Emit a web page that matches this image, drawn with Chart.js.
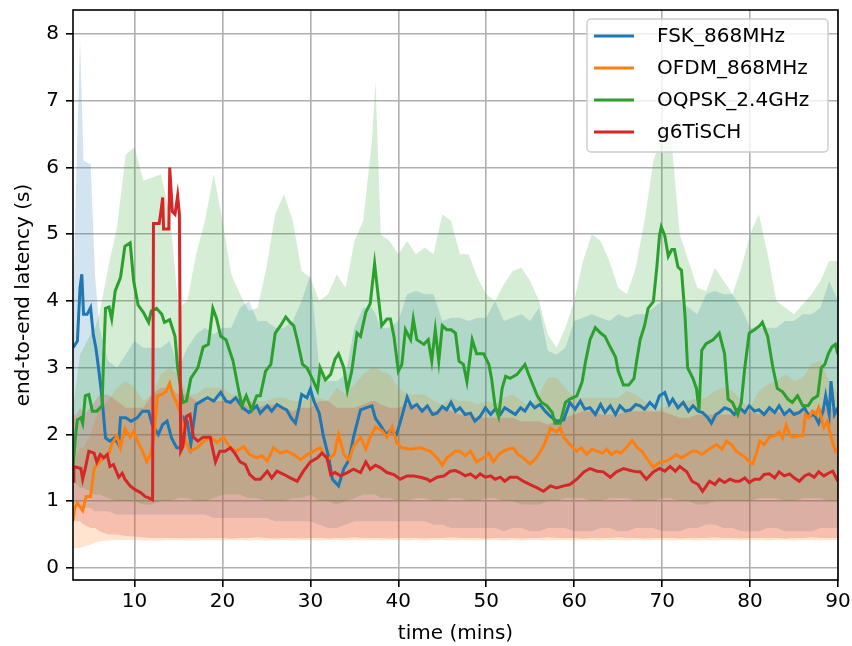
<!DOCTYPE html>
<html>
<head>
<meta charset="utf-8">
<script src="https://cdn.jsdelivr.net/npm/chart.js@4.4.1/dist/chart.umd.min.js"></script>
<style>
  html, body { margin: 0; padding: 0; background: #fff; }
  #wrap { width: 852px; height: 646px; }
</style>
</head>
<body>
<div id="wrap"><canvas id="latencyChart" width="852" height="646"></canvas></div>
<script>
// Axis ticks
const xTicks = [10, 20, 30, 40, 50, 60, 70, 80, 90];
const yTicks = [0, 1, 2, 3, 4, 5, 6, 7, 8];

// FSK_868MHz (mean latency)
const fskMins = [3.0, 3.5, 3.8, 4.0, 4.2, 4.6, 5.0, 5.3, 5.6, 5.9,
  6.3, 6.7, 7.2, 7.7, 8.2, 8.4, 9.0, 9.6, 10.3, 10.9,
  11.6, 12.0, 12.7, 13.2, 13.7, 14.2, 14.8, 15.3, 15.6, 16.0,
  16.4, 17.0, 17.6, 18.3, 19.0, 19.8, 20.4, 20.9, 21.5, 22.3,
  23.0, 23.9, 24.3, 25.1, 25.6, 26.2, 26.8, 27.3, 27.8, 28.3,
  28.7, 29.0, 29.6, 30.0, 30.4, 31.0, 31.5, 32.1, 32.5, 33.2,
  33.8, 34.4, 34.9, 35.7, 36.3, 37.0, 37.4, 38.1, 38.6, 39.1,
  39.8, 40.4, 41.0, 41.5, 42.1, 42.7, 43.3, 43.9, 44.4, 45.0,
  45.5, 46.0, 46.5, 47.0, 47.6, 48.2, 48.7, 49.3, 49.9, 50.5,
  51.0, 51.6, 52.1, 52.7, 53.3, 53.9, 54.4, 55.0, 55.5, 56.1,
  56.7, 57.3, 58.0, 58.8, 59.5, 60.1, 60.7, 61.2, 61.8, 62.4,
  63.0, 63.5, 64.1, 64.7, 65.2, 65.8, 66.4, 67.0, 67.5, 68.0,
  68.6, 69.2, 69.7, 70.3, 70.8, 71.2, 71.8, 72.4, 73.0, 73.5,
  74.1, 74.6, 75.2, 75.6, 76.1, 76.5, 77.1, 77.7, 78.2, 78.8,
  79.4, 79.9, 80.5, 81.0, 81.6, 82.2, 82.8, 83.3, 83.9, 84.5,
  85.0, 85.6, 86.2, 86.7, 87.3, 87.8, 88.3, 88.6, 89.0, 89.2,
  89.6, 90.0];
const fskLatency = [3.3, 3.4, 4.2, 4.4, 3.8, 3.8, 3.9, 3.5, 3.3, 3.0,
  2.55, 1.95, 1.9, 1.95, 1.85, 2.25, 2.25, 2.2, 2.25, 2.35,
  2.35, 2.15, 2.0, 2.15, 2.2, 1.95, 1.8, 1.8, 2.25, 2.2,
  1.85, 2.45, 2.5, 2.55, 2.5, 2.63, 2.5, 2.48, 2.55, 2.4,
  2.33, 2.43, 2.32, 2.43, 2.35, 2.45, 2.4, 2.37, 2.25, 2.17,
  2.4, 2.6, 2.55, 2.68, 2.5, 2.32, 1.96, 1.65, 1.33, 1.23,
  1.49, 1.62, 1.96, 2.37, 2.4, 2.43, 2.24, 2.11, 2.0, 2.06,
  2.0, 2.27, 2.56, 2.4, 2.45, 2.35, 2.43, 2.3, 2.32, 2.42,
  2.37, 2.48, 2.35, 2.4, 2.3, 2.32, 2.2, 2.27, 2.4, 2.3,
  2.38, 2.3, 2.4, 2.35, 2.3, 2.4, 2.35, 2.48, 2.4, 2.45,
  2.35, 2.27, 2.2, 2.22, 2.48, 2.38, 2.5, 2.38, 2.4, 2.3,
  2.45, 2.33, 2.43, 2.3, 2.43, 2.35, 2.37, 2.45, 2.43, 2.38,
  2.48, 2.4, 2.58, 2.63, 2.45, 2.53, 2.4, 2.48, 2.35, 2.43,
  2.35, 2.33, 2.25, 2.17, 2.3, 2.33, 2.4, 2.37, 2.3, 2.4,
  2.33, 2.43, 2.35, 2.37, 2.3, 2.4, 2.33, 2.43, 2.3, 2.37,
  2.3, 2.33, 2.4, 2.27, 2.3, 2.17, 2.35, 2.58, 2.3, 2.8,
  2.3, 2.4];

// OFDM_868MHz
const ofdmMins = [3.0, 3.2, 3.5, 4.1, 4.5, 5.0, 5.4, 6.0, 6.5, 7.1,
  7.4, 8.0, 8.4, 8.9, 9.5, 9.9, 10.3, 10.9, 11.4, 11.8,
  12.2, 12.6, 13.1, 13.6, 14.0, 14.4, 14.8, 15.2, 15.8, 16.3,
  17.1, 17.9, 18.6, 19.4, 20.1, 20.9, 21.6, 22.4, 23.1, 23.9,
  24.5, 25.1, 25.8, 26.6, 27.3, 28.1, 28.9, 29.6, 30.4, 31.1,
  31.9, 32.7, 33.2, 33.8, 34.4, 34.9, 35.7, 36.3, 36.8, 37.4,
  38.1, 38.7, 39.3, 39.8, 40.4, 41.4, 42.5, 43.6, 44.4, 45.0,
  45.5, 46.5, 47.0, 47.6, 48.2, 48.9, 49.7, 50.3, 50.8, 51.4,
  52.0, 52.5, 53.1, 53.6, 54.2, 55.0, 55.7, 56.5, 57.3, 58.0,
  58.4, 58.8, 59.5, 60.3, 60.8, 61.4, 62.0, 62.6, 63.2, 63.7,
  64.2, 64.8, 65.3, 65.9, 66.6, 67.2, 67.7, 68.2, 69.0, 69.7,
  70.5, 71.1, 71.6, 72.2, 72.8, 73.4, 73.9, 74.5, 75.0, 75.6,
  76.2, 76.8, 77.3, 77.9, 78.4, 79.0, 79.5, 80.0, 80.3, 80.8,
  81.1, 81.6, 82.2, 82.8, 83.3, 83.7, 84.1, 84.5, 84.8, 85.4,
  86.0, 86.3, 86.7, 87.1, 87.5, 87.8, 88.4, 88.8, 89.2, 89.7,
  90.0];
const ofdmLatency = [0.7, 0.9, 0.97, 0.86, 1.07, 1.07, 1.49, 1.59, 1.65, 1.72,
  1.85, 1.98, 1.8, 2.09, 1.96, 2.05, 1.91, 1.75, 1.59, 1.7,
  1.96, 2.58, 2.6, 2.65, 2.77, 2.58, 2.48, 2.32, 1.9, 1.75,
  1.8, 1.9, 1.96, 1.88, 1.96, 1.8, 1.75, 1.82, 1.7, 1.65,
  1.68, 1.6, 1.8, 1.72, 1.75, 1.7, 1.62, 1.7, 1.75, 1.8,
  1.62, 1.7, 2.0, 1.7, 1.62, 1.82, 1.96, 1.78, 1.96, 2.11,
  2.06, 1.96, 2.11, 1.88, 1.8, 1.78, 1.8, 1.75, 1.65, 1.54,
  1.65, 1.75, 1.75, 1.68, 1.75, 1.59, 1.65, 1.72, 1.59, 1.7,
  1.75, 1.78, 1.8, 1.7, 1.65, 1.56, 1.65, 1.82, 2.09, 2.04,
  2.1, 1.96, 1.85, 1.75, 1.8, 1.7, 1.78, 1.75, 1.72, 1.78,
  1.7, 1.75, 1.72, 1.8, 1.91, 1.8, 1.75, 1.65, 1.51, 1.58,
  1.6, 1.65, 1.7, 1.65, 1.7, 1.75, 1.75, 1.7, 1.75, 1.8,
  1.85, 1.78, 1.9, 1.85, 1.75, 1.7, 1.65, 1.58, 1.56, 1.75,
  1.9, 1.85, 1.96, 1.98, 2.04, 1.95, 2.14, 2.0, 1.96, 1.98,
  1.98, 2.3, 2.25, 2.35, 2.3, 2.4, 2.11, 2.2, 1.96, 1.75,
  1.8];

// OQPSK_2.4GHz
const oqpskMins = [3.0, 3.3, 3.5, 3.9, 4.1, 4.4, 4.8, 5.2, 5.7, 6.3,
  6.5, 6.7, 7.1, 7.4, 7.8, 8.4, 8.9, 9.5, 9.9, 10.4,
  11.0, 11.6, 11.9, 12.5, 13.1, 13.4, 14.0, 14.6, 14.9, 15.5,
  15.9, 16.4, 17.2, 17.8, 18.4, 18.9, 19.3, 19.8, 20.4, 21.2,
  21.8, 22.2, 22.7, 23.3, 23.9, 24.3, 24.9, 25.5, 26.0, 26.6,
  27.2, 27.7, 28.1, 28.5, 29.1, 29.6, 30.2, 30.8, 31.1, 31.7,
  32.3, 32.8, 33.2, 33.8, 34.2, 34.7, 35.3, 35.7, 36.3, 36.8,
  37.3, 37.6, 38.1, 38.7, 39.1, 39.5, 40.0, 40.4, 40.8, 41.4,
  41.7, 42.1, 42.9, 43.4, 43.8, 44.2, 44.6, 45.0, 45.5, 46.0,
  46.5, 46.9, 47.4, 47.8, 48.4, 48.9, 49.7, 50.3, 50.6, 51.0,
  51.4, 51.8, 52.2, 52.7, 53.5, 54.4, 55.0, 55.8, 56.3, 56.9,
  57.5, 57.8, 58.4, 59.0, 59.5, 60.3, 60.9, 61.3, 61.8, 62.4,
  63.0, 63.5, 64.1, 64.7, 65.0, 65.6, 66.2, 66.8, 67.1, 67.5,
  68.0, 68.4, 69.0, 69.4, 69.7, 69.9, 70.3, 70.7, 71.1, 71.4,
  71.8, 72.2, 72.6, 72.9, 73.5, 73.9, 74.2, 74.5, 75.0, 75.8,
  76.5, 77.1, 77.5, 78.0, 78.6, 79.0, 79.4, 79.9, 80.5, 81.1,
  81.4, 82.0, 82.6, 83.1, 83.7, 84.3, 84.8, 85.4, 86.0, 86.6,
  87.1, 87.7, 88.1, 88.5, 88.9, 89.3, 89.7, 90.0];
const oqpskLatency = [1.5, 2.0, 2.22, 2.25, 2.17, 2.58, 2.6, 2.35, 2.35, 2.43,
  3.2, 3.89, 3.91, 3.73, 4.15, 4.35, 4.82, 4.87, 4.3, 3.94,
  3.83, 3.68, 3.85, 3.89, 3.8, 3.68, 3.72, 3.47, 3.0, 2.48,
  2.5, 2.84, 3.0, 3.31, 3.35, 3.89, 3.75, 3.47, 3.42, 3.1,
  2.69, 2.43, 2.58, 2.37, 2.58, 2.58, 2.95, 3.05, 3.52, 3.63,
  3.76, 3.68, 3.63, 3.42, 3.05, 3.0, 2.84, 2.66, 3.0, 2.82,
  2.9, 3.13, 3.21, 3.0, 2.66, 2.95, 3.52, 3.47, 3.83, 3.96,
  4.56, 4.2, 3.63, 3.73, 3.73, 3.47, 2.95, 3.05, 3.57, 3.42,
  3.73, 3.42, 3.35, 3.42, 3.1, 3.57, 3.1, 3.63, 3.57, 3.57,
  3.52, 3.1, 3.05, 2.79, 3.42, 3.21, 3.21, 3.05, 2.84, 2.43,
  2.27, 2.69, 2.87, 2.84, 2.9, 3.05, 2.84, 2.58, 2.48, 2.43,
  2.33, 2.17, 2.17, 2.48, 2.53, 2.58, 2.79, 3.1, 3.42, 3.6,
  3.52, 3.47, 3.31, 3.16, 2.95, 2.74, 2.74, 2.84, 3.1, 3.42,
  3.63, 3.89, 3.99, 4.51, 4.98, 5.11, 4.98, 4.67, 4.77, 4.77,
  4.51, 4.46, 3.78, 3.0, 2.84, 2.69, 2.37, 3.26, 3.36, 3.42,
  3.52, 3.21, 2.53, 2.48, 2.3, 2.48, 3.0, 3.52, 3.57, 3.63,
  3.68, 3.47, 3.0, 2.69, 2.64, 2.53, 2.48, 2.58, 2.43, 2.43,
  2.53, 2.58, 3.0, 3.05, 3.21, 3.31, 3.35, 3.2];

// g6TiSCH
const tischMins = [3.0, 3.1, 3.9, 4.1, 4.4, 4.8, 5.4, 5.7, 6.1, 6.5,
  6.9, 7.2, 7.6, 8.2, 8.6, 8.9, 9.5, 10.1, 10.7, 11.2,
  11.6, 12.05, 12.15, 12.8, 13.0, 13.2, 13.3, 13.9, 14.0, 14.3,
  14.6, 14.9, 15.1, 15.25, 15.5, 15.9, 16.3, 16.7, 17.2, 17.8,
  18.6, 19.2, 19.7, 20.3, 20.9, 21.4, 22.0, 22.6, 23.1, 23.7,
  24.3, 25.1, 25.6, 26.2, 27.0, 27.7, 28.5, 29.2, 30.0, 30.8,
  31.3, 31.9, 32.3, 32.8, 33.4, 34.2, 34.9, 35.7, 36.3, 36.8,
  37.4, 38.0, 38.7, 39.5, 40.2, 41.0, 41.7, 42.5, 43.3, 43.6,
  44.4, 45.2, 45.9, 46.5, 47.0, 47.6, 48.2, 48.8, 49.3, 49.9,
  50.5, 51.0, 51.6, 52.1, 52.7, 53.5, 54.2, 55.0, 55.8, 56.5,
  57.3, 58.0, 58.8, 59.5, 60.3, 61.1, 61.8, 62.6, 63.3, 64.1,
  64.8, 65.6, 66.4, 67.1, 67.5, 68.2, 69.0, 69.7, 70.3, 70.9,
  71.5, 72.0, 72.8, 73.4, 74.1, 74.6, 75.4, 76.0, 76.5, 77.1,
  77.7, 78.3, 78.8, 79.4, 79.9, 80.5, 81.1, 81.6, 82.2, 82.8,
  83.3, 83.9, 84.5, 85.0, 85.6, 86.2, 86.7, 87.3, 87.8, 88.4,
  88.9, 89.4, 90.0];
const tischLatency = [1.3, 1.52, 1.49, 1.33, 1.49, 1.75, 1.72, 1.59, 1.7, 1.65,
  1.7, 1.52, 1.55, 1.36, 1.42, 1.33, 1.23, 1.17, 1.13, 1.07,
  1.05, 1.02, 5.16, 5.16, 5.34, 5.55, 5.08, 5.08, 6.0, 5.34,
  5.3, 5.58, 5.3, 1.75, 1.82, 2.27, 2.3, 1.96, 1.9, 1.96,
  1.96, 1.59, 1.75, 1.75, 1.8, 1.72, 1.59, 1.55, 1.4, 1.33,
  1.33, 1.45, 1.35, 1.45, 1.4, 1.35, 1.3, 1.45, 1.59, 1.65,
  1.72, 1.65, 1.4, 1.43, 1.38, 1.43, 1.48, 1.43, 1.59, 1.48,
  1.54, 1.5, 1.43, 1.4, 1.33, 1.38, 1.38, 1.36, 1.33, 1.3,
  1.36, 1.38, 1.45, 1.46, 1.43, 1.38, 1.41, 1.35, 1.41, 1.36,
  1.38, 1.33, 1.36, 1.3, 1.36, 1.36, 1.3, 1.25, 1.2, 1.15,
  1.23, 1.2, 1.23, 1.25, 1.33, 1.44, 1.49, 1.45, 1.44, 1.36,
  1.44, 1.49, 1.46, 1.44, 1.44, 1.33, 1.44, 1.49, 1.45, 1.52,
  1.45, 1.52, 1.44, 1.3, 1.25, 1.15, 1.3, 1.25, 1.33, 1.28,
  1.33, 1.3, 1.3, 1.35, 1.28, 1.33, 1.33, 1.4, 1.41, 1.35,
  1.44, 1.38, 1.41, 1.35, 1.3, 1.38, 1.41, 1.36, 1.44, 1.38,
  1.42, 1.45, 1.3];

// Spread bands (upper / lower), all on the same time grid
const bandMins = [3, 3.4, 3.8, 4.2, 5, 5.5, 6, 7, 8, 9,
  10, 11, 12, 13, 14, 15, 16, 17, 18, 19,
  20, 21, 22, 23, 24, 25, 26, 27, 28, 29,
  30, 31, 32, 33, 34, 35, 36, 37, 37.4, 38,
  39, 40, 41, 42, 43, 44, 45, 46, 47, 48,
  49, 50, 51, 52, 53, 54, 55, 56, 57, 58,
  59, 60, 61, 62, 63, 64, 65, 66, 67, 68,
  69, 70, 71, 72, 73, 74, 75, 76, 77, 78,
  79, 80, 81, 82, 83, 84, 85, 86, 87, 88,
  89, 90];
const fskUpper = [3.8, 6.0, 7.9, 6.1, 6.05, 4.4, 3.6, 3.1, 3.0, 3.2,
  3.4, 3.3, 3.3, 3.3, 3.4, 3.0, 3.3, 3.5, 3.6, 3.5,
  3.6, 3.6, 3.9, 4.0, 3.7, 3.7, 3.6, 3.6, 3.7, 4.0,
  4.4, 3.0, 2.8, 2.8, 2.9, 3.6, 3.9, 3.9, 3.8, 3.6,
  3.6, 3.7, 4.1, 4.15, 4.1, 4.1, 3.7, 3.75, 3.75, 3.7,
  3.75, 3.75, 4.0, 3.7, 3.75, 3.8, 3.7, 3.9, 3.25, 3.2,
  3.3, 3.7, 3.75, 3.8, 3.75, 3.7, 3.8, 3.75, 3.8, 3.8,
  3.9, 4.0, 4.0, 4.0, 3.9, 3.8, 4.1, 4.15, 4.1, 4.1,
  3.9, 3.6, 3.6, 3.6, 3.6, 3.7, 3.7, 3.8, 3.8, 3.9,
  4.3, 4.0];
const fskLower = [0.95, 0.95, 0.9, 0.9, 0.9, 0.85, 0.85, 0.85, 0.8, 0.8,
  0.8, 0.8, 0.8, 0.8, 0.8, 0.8, 0.8, 0.8, 0.8, 0.75,
  0.75, 0.75, 0.75, 0.75, 0.75, 0.75, 0.7, 0.7, 0.7, 0.7,
  0.7, 0.65, 0.6, 0.6, 0.65, 0.7, 0.7, 0.7, 0.7, 0.7,
  0.7, 0.7, 0.7, 0.7, 0.7, 0.65, 0.65, 0.6, 0.6, 0.6,
  0.6, 0.6, 0.6, 0.55, 0.6, 0.6, 0.55, 0.55, 0.6, 0.6,
  0.6, 0.55, 0.55, 0.55, 0.6, 0.6, 0.55, 0.55, 0.6, 0.6,
  0.6, 0.55, 0.55, 0.55, 0.6, 0.6, 0.65, 0.65, 0.6, 0.6,
  0.55, 0.55, 0.55, 0.6, 0.6, 0.55, 0.55, 0.55, 0.55, 0.6,
  0.6, 0.6];
const ofdmUpper = [1.4, 1.7, 1.8, 1.8, 2.0, 2.2, 2.4, 2.5, 2.7, 2.8,
  2.7, 2.5, 2.6, 2.9, 3.0, 2.9, 2.6, 2.6, 2.7, 2.7,
  2.7, 2.6, 2.6, 2.5, 2.5, 2.5, 2.55, 2.55, 2.5, 2.5,
  2.55, 2.55, 2.5, 2.7, 2.6, 2.75, 2.9, 3.0, 3.0, 2.95,
  2.9, 2.7, 2.6, 2.6, 2.6, 2.5, 2.45, 2.55, 2.5, 2.5,
  2.45, 2.5, 2.45, 2.55, 2.6, 2.5, 2.4, 2.6, 2.85, 2.85,
  2.7, 2.55, 2.55, 2.55, 2.55, 2.55, 2.55, 2.65, 2.6, 2.5,
  2.35, 2.4, 2.45, 2.5, 2.5, 2.55, 2.55, 2.65, 2.7, 2.65,
  2.5, 2.4, 2.65, 2.75, 2.8, 2.9, 2.8, 2.85, 3.05, 3.1,
  2.8, 2.6];
const ofdmLower = [0.28, 0.3, 0.3, 0.32, 0.35, 0.38, 0.4, 0.41, 0.42, 0.42,
  0.42, 0.41, 0.41, 0.41, 0.42, 0.42, 0.41, 0.41, 0.42, 0.42,
  0.41, 0.42, 0.42, 0.41, 0.42, 0.41, 0.42, 0.42, 0.41, 0.42,
  0.42, 0.41, 0.42, 0.42, 0.41, 0.42, 0.41, 0.42, 0.42, 0.41,
  0.42, 0.42, 0.41, 0.42, 0.41, 0.42, 0.42, 0.41, 0.42, 0.42,
  0.41, 0.42, 0.42, 0.41, 0.42, 0.41, 0.42, 0.42, 0.41, 0.42,
  0.42, 0.41, 0.42, 0.42, 0.41, 0.42, 0.42, 0.41, 0.42, 0.41,
  0.42, 0.42, 0.41, 0.42, 0.42, 0.41, 0.42, 0.41, 0.42, 0.42,
  0.41, 0.42, 0.42, 0.41, 0.42, 0.42, 0.41, 0.42, 0.42, 0.41,
  0.42, 0.42];
const oqpskUpper = [2.4, 2.8, 3.2, 3.3, 3.5, 3.6, 3.8, 4.5, 5.1, 6.2,
  6.3, 5.8, 5.85, 5.9, 5.3, 3.9, 4.0, 4.7, 5.2, 5.9,
  5.2, 4.4, 4.1, 3.85, 3.9, 4.5, 5.3, 5.6, 5.2, 4.45,
  4.35, 4.0, 4.1, 4.4, 4.2, 4.9, 5.2, 6.4, 7.3, 5.0,
  4.9, 4.7, 4.9, 4.7, 4.8, 4.7, 5.3, 5.2, 4.7, 4.7,
  4.35, 4.1, 4.0, 4.25, 4.45, 4.5, 4.3, 4.0, 3.5, 3.3,
  3.6, 4.0, 4.6, 5.0, 4.9, 4.6, 4.2, 4.1, 4.5, 5.2,
  6.1, 6.5, 6.5, 5.0, 4.6, 4.2, 4.15, 4.5, 4.3, 4.1,
  4.5, 5.0, 5.3, 4.7, 4.0, 3.9, 3.8, 3.95, 4.1, 4.3,
  4.6, 4.6];
const oqpskLower = [1.3, 1.25, 1.2, 1.2, 1.15, 1.1, 1.1, 1.05, 1.0, 1.0,
  1.0, 0.95, 0.95, 1.0, 1.0, 1.05, 1.05, 1.0, 1.0, 1.05,
  1.1, 1.1, 1.1, 1.05, 1.05, 1.0, 1.0, 1.0, 1.05, 1.05,
  1.1, 1.0, 1.0, 0.95, 1.0, 1.05, 1.1, 1.1, 1.1, 1.05,
  1.05, 1.0, 1.0, 1.05, 1.05, 1.0, 1.0, 1.05, 1.05, 1.0,
  1.0, 1.05, 1.05, 1.0, 1.0, 0.95, 0.95, 0.95, 1.0, 1.0,
  1.05, 1.05, 1.05, 1.0, 1.0, 1.05, 1.05, 1.05, 1.0, 1.0,
  1.0, 1.05, 1.05, 1.0, 1.0, 0.95, 0.95, 1.0, 1.0, 1.0,
  1.0, 1.0, 1.05, 1.05, 1.05, 1.0, 1.0, 1.05, 1.05, 1.05,
  1.0, 1.0];
const tischUpper = [2.3, 2.3, 2.4, 2.3, 2.4, 2.5, 2.6, 2.6, 2.5, 2.4,
  2.4, 2.4, 2.6, 2.7, 2.7, 2.6, 2.6, 2.5, 2.5, 2.5,
  2.5, 2.5, 2.5, 2.4, 2.4, 2.45, 2.45, 2.4, 2.35, 2.4,
  2.4, 2.5, 2.5, 2.4, 2.4, 2.4, 2.45, 2.5, 2.5, 2.45,
  2.4, 2.4, 2.45, 2.4, 2.4, 2.35, 2.4, 2.35, 2.3, 2.3,
  2.25, 2.25, 2.25, 2.25, 2.25, 2.2, 2.2, 2.2, 2.15, 2.2,
  2.25, 2.3, 2.35, 2.35, 2.3, 2.3, 2.3, 2.35, 2.35, 2.35,
  2.35, 2.35, 2.3, 2.25, 2.25, 2.3, 2.3, 2.3, 2.3, 2.3,
  2.35, 2.35, 2.3, 2.35, 2.35, 2.3, 2.35, 2.35, 2.35, 2.4,
  2.4, 2.35];
const tischLower = [0.75, 0.7, 0.7, 0.65, 0.6, 0.6, 0.55, 0.5, 0.5, 0.48,
  0.47, 0.46, 0.45, 0.45, 0.45, 0.45, 0.45, 0.45, 0.45, 0.45,
  0.45, 0.44, 0.45, 0.45, 0.46, 0.45, 0.44, 0.45, 0.45, 0.44,
  0.45, 0.45, 0.44, 0.45, 0.45, 0.46, 0.45, 0.45, 0.45, 0.45,
  0.44, 0.45, 0.45, 0.45, 0.44, 0.45, 0.45, 0.46, 0.45, 0.45,
  0.45, 0.44, 0.45, 0.45, 0.45, 0.44, 0.45, 0.45, 0.46, 0.45,
  0.45, 0.45, 0.44, 0.45, 0.45, 0.45, 0.46, 0.45, 0.45, 0.44,
  0.45, 0.45, 0.45, 0.44, 0.45, 0.45, 0.45, 0.46, 0.45, 0.45,
  0.44, 0.45, 0.45, 0.45, 0.45, 0.44, 0.45, 0.45, 0.46, 0.45,
  0.45, 0.45];

// Colours (matplotlib tab10)
const BLUE = "#1f77b4", ORANGE = "#ff7f0e", GREEN = "#2ca02c", RED = "#d62728";

function pts(mins, vals) {
  return mins.map((t, i) => ({x: t, y: vals[i]}));
}

function lineSet(label, color, mins, vals, order) {
  return {
    label: label,
    data: pts(mins, vals),
    borderColor: color,
    backgroundColor: color,
    borderWidth: 3,
    pointRadius: 0,
    tension: 0,
    fill: false,
    order: order
  };
}

function bandSet(rgba, mins, vals, fill, order) {
  return {
    label: "",
    data: pts(mins, vals),
    borderColor: "rgba(0,0,0,0)",
    backgroundColor: rgba,
    borderWidth: 1,
    pointRadius: 0,
    tension: 0,
    fill: fill,
    order: order
  };
}

// Frame round the plot + matplotlib-like legend
const framePlugin = {
  id: "frame",
  afterDraw(chart) {
    const ctx = chart.ctx;
    const a = chart.chartArea;
    ctx.save();
    ctx.strokeStyle = "#000";
    ctx.lineWidth = 1.6;
    ctx.strokeRect(a.left, a.top, a.right - a.left, a.bottom - a.top);

    const bw = 241, bh = 133;
    const bx = a.right - 10 - bw, by = a.top + 9;
    ctx.beginPath();
    ctx.roundRect(bx, by, bw, bh, 4);
    ctx.fillStyle = "rgba(255,255,255,0.8)";
    ctx.fill();
    ctx.strokeStyle = "#cccccc";
    ctx.lineWidth = 1.4;
    ctx.stroke();

    ctx.font = '20px "DejaVu Sans"';
    ctx.textBaseline = "middle";
    ctx.textAlign = "left";
    for (let i = 0; i < 4; i++) {
      const ds = chart.data.datasets[i];
      const y = by + 17 + i * 32;
      ctx.beginPath();
      ctx.moveTo(bx + 7, y);
      ctx.lineTo(bx + 47, y);
      ctx.strokeStyle = ds.borderColor;
      ctx.lineWidth = 3;
      ctx.stroke();
      ctx.fillStyle = "#000";
      ctx.fillText(ds.label, bx + 70, y + 1);
    }
    ctx.restore();
  }
};

Chart.defaults.font.family = '"DejaVu Sans"';
Chart.defaults.font.size = 20;
Chart.defaults.color = "#000";

new Chart(document.getElementById("latencyChart"), {
  type: "line",
  data: {
    datasets: [
      lineSet("FSK_868MHz", BLUE, fskMins, fskLatency, 3),
      lineSet("OFDM_868MHz", ORANGE, ofdmMins, ofdmLatency, 2),
      lineSet("OQPSK_2.4GHz", GREEN, oqpskMins, oqpskLatency, 1),
      lineSet("g6TiSCH", RED, tischMins, tischLatency, 0),
      bandSet("rgba(31,119,180,0.2)", bandMins, fskUpper, "+1", 13),
      bandSet("rgba(0,0,0,0)", bandMins, fskLower, false, 13),
      bandSet("rgba(255,127,14,0.2)", bandMins, ofdmUpper, "+1", 12),
      bandSet("rgba(0,0,0,0)", bandMins, ofdmLower, false, 12),
      bandSet("rgba(44,160,44,0.2)", bandMins, oqpskUpper, "+1", 11),
      bandSet("rgba(0,0,0,0)", bandMins, oqpskLower, false, 11),
      bandSet("rgba(214,39,40,0.2)", bandMins, tischUpper, "+1", 10),
      bandSet("rgba(0,0,0,0)", bandMins, tischLower, false, 10)
    ]
  },
  options: {
    responsive: false,
    animation: false,
    events: [],
    layout: { padding: { left: 0, top: 10, right: 14, bottom: 0 } },
    plugins: {
      legend: { display: false },
      tooltip: { enabled: false }
    },
    scales: {
      x: {
        type: "linear",
        min: 3,
        max: 90,
        afterBuildTicks: s => { s.ticks = xTicks.map(v => ({value: v})); },
        afterFit: s => { s.height = 66; s.paddingLeft = 0; s.paddingRight = 0; },
        ticks: { padding: 3, maxRotation: 0, autoSkip: false },
        grid: { color: "#b0b0b0", lineWidth: 1.6, tickColor: "#000", tickLength: 7, tickWidth: 1.6 },
        border: { display: false },
        title: { display: true, text: "time (mins)", padding: { top: 0, bottom: 0 } }
      },
      y: {
        type: "linear",
        min: -0.18,
        max: 8.36,
        afterBuildTicks: s => { s.ticks = yTicks.map(v => ({value: v})); },
        afterFit: s => { s.width = 73; s.paddingTop = 0; s.paddingBottom = 0; },
        ticks: { padding: 7 },
        grid: { color: "#b0b0b0", lineWidth: 1.6, tickColor: "#000", tickLength: 7, tickWidth: 1.6 },
        border: { display: false },
        title: { display: true, text: "end-to-end latency (s)", padding: { top: 12, bottom: 0 } }
      }
    }
  },
  plugins: [framePlugin]
});
</script>
</body>
</html>
